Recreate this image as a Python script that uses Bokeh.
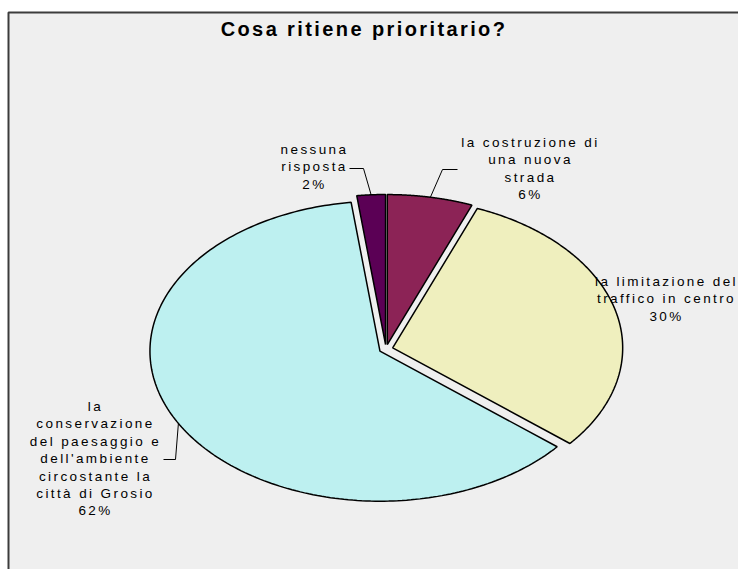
import numpy as np
from bokeh.plotting import figure
from bokeh.models import Range1d
from bokeh.embed import file_html
from bokeh.resources import INLINE
from bokeh.core.properties import value

# ---- data ----
title = "Cosa ritiene prioritario?"
categories = [
    "la costruzione di\nuna nuova\nstrada",
    "la limitazione del\ntraffico in centro",
    "la\nconservazione\ndel paesaggio e\ndell'ambiente\ncircostante la\ncittà di Grosio",
    "nessuna\nrisposta",
]
values = [6, 30, 62, 2]
colors = ["#8C2356", "#EFEFBE", "#BDF0F0", "#5B0055"]

# ---- layout constants (pixels, y downwards) ----
W, H = 738, 569
CX, CY = 385.5, 348.5
RX, RY = 230.0, 150.0
EXPLODE = 0.03
FONT = "Liberation Sans"
LABEL_SIZE = "13.5px"
LETTER_SP = 2.4
LINE_STEP = 17.4
label_pos = [(530, 142), (666, 281), (95, 406), (314, 149)]
leader_elbow = [(442, 169), None, (175, 459), (363, 168)]
leader_end = [(457, 169), None, (163, 459), (349, 168)]

p = figure(width=W, height=H, output_backend="svg", toolbar_location=None,
           x_range=Range1d(0, W), y_range=Range1d(H, 0), min_border=0)
p.axis.visible = False
p.grid.visible = False
p.outline_line_color = None
p.background_fill_color = "white"
p.border_fill_color = "white"
p.styles = {"letter-spacing": f"{LETTER_SP}px"}

# chart area
p.quad(left=[8], right=[W + 20], top=[12], bottom=[H + 20],
       fill_color="#EFEFEF", line_color="#3C3C3C", line_width=2)

# pie slices
vals = np.array(values, dtype=float)
frac = vals / vals.sum()
ends = np.cumsum(frac) * 2 * np.pi
starts = ends - frac * 2 * np.pi
xs, ys, mids, origins = [], [], [], []
for s, e in zip(starts, ends):
    m = (s + e) / 2
    ox = CX + EXPLODE * RX * np.sin(m)
    oy = CY - EXPLODE * RY * np.cos(m)
    t = np.linspace(s, e, 200)
    xs.append([ox] + list(ox + RX * np.sin(t)) + [ox])
    ys.append([oy] + list(oy - RY * np.cos(t)) + [oy])
    mids.append(m)
    origins.append((ox, oy))
p.patches(xs, ys, fill_color=colors, line_color="black", line_width=1.5)

# leader lines
for i, m in enumerate(mids):
    if leader_elbow[i] is None:
        continue
    ox, oy = origins[i]
    px = ox + RX * np.sin(m)
    py = oy - RY * np.cos(m)
    ex, ey = leader_elbow[i]
    lx, ly = leader_end[i]
    p.line([px, ex, lx], [py, ey, ly], line_color="black", line_width=1)

# labels (shift left by half the added letter spacing so lines stay centred)
tx, ty, tt = [], [], []
for i, cat in enumerate(categories):
    lines = cat.split("\n") + [f"{values[i]}%"]
    x0, y0 = label_pos[i]
    for k, ln in enumerate(lines):
        tx.append(x0 - len(ln) * LETTER_SP / 2)
        ty.append(y0 + k * LINE_STEP)
        tt.append(ln)
p.text(tx, ty, text=tt, text_align="center", text_baseline="middle",
       text_font=value(FONT), text_font_size=LABEL_SIZE, text_color="black")

# title
p.text([363.5 - len(title) * LETTER_SP / 2], [28], text=[title],
       text_align="center", text_baseline="middle",
       text_font=value(FONT), text_font_size="20px", text_font_style="bold",
       text_color="black")

open("out.html", "w").write(file_html(p, INLINE))
